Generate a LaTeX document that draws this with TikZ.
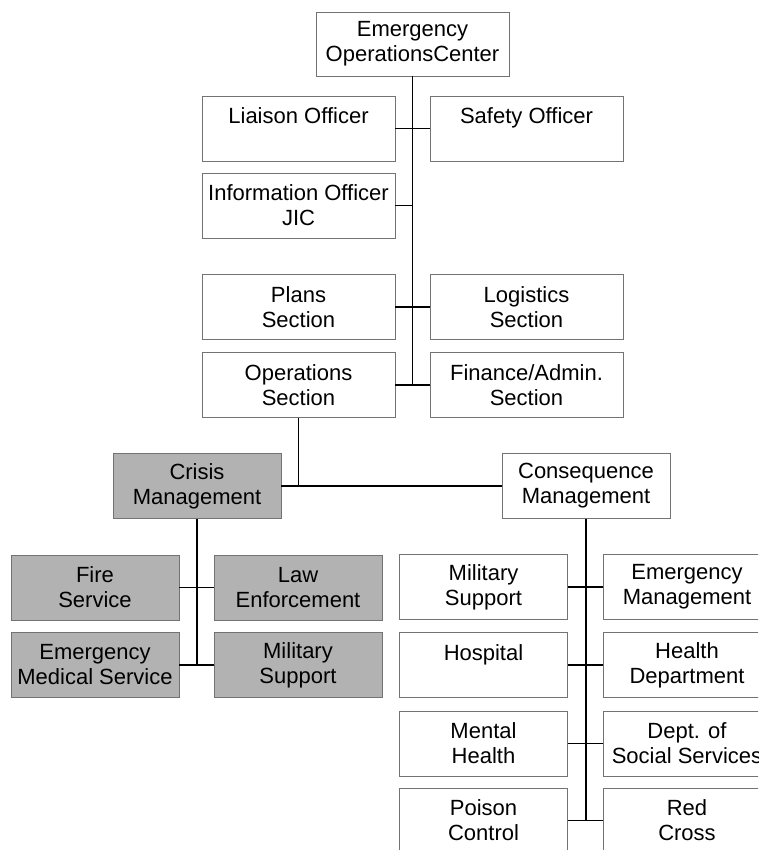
\documentclass[tikz,border=0pt]{standalone}
\usepackage{fontspec}
\setmainfont{Liberation Sans}

\begin{document}
\begin{tikzpicture}
        [
            x                       = 1pt,
            y                       = -1pt,
            boxed/.style            = {shape=rectangle, draw=black!55, fill=white, align=center,
                                       inner sep=1pt, minimum height=65pt},
            wide/.style             = {boxed, minimum width=193pt},
            narrow/.style           = {boxed, minimum width=168pt},
            crisis/.style           = {narrow, fill=black!30},
            link/.style             = {draw, line width=1.3pt},
            every node/.style       = {font=\fontsize{22}{25}\selectfont},
        ]
        \useasboundingbox (0,0) rectangle (758,850);
        \clip (0,0) rectangle (758,850);

        \node [wide, minimum height=64pt] (eoc)       at (412.5,44)    {Emergency\\OperationsCenter};
        \node [wide]                      (liaison)   at (298.5,128.5) {Liaison Officer\\~};
        \node [wide]                      (safety)    at (526.5,128.5) {Safety Officer\\~};
        \node [wide]                      (info)      at (298.5,205.5) {Information Officer\\JIC};
        \node [wide]                      (plans)     at (298.5,307)   {Plans\\Section};
        \node [wide]                      (logistics) at (526.5,307)   {Logistics\\Section};
        \node [wide]                      (ops)       at (298.5,385)   {Operations\\Section};
        \node [wide]                      (finance)   at (526.5,385)   {Finance/Admin.\\Section};

        \node [crisis] (crisismgmt) at (197,486)   {Crisis\\Management};
        \node [crisis] (fire)       at (95,587.5)  {Fire\\Service};
        \node [crisis] (law)        at (298,587.5) {Law\\Enforcement};
        \node [crisis] (ems)        at (95,665)    {Emergency\\Medical Service};
        \node [crisis] (milcrisis)  at (298,665)   {Military\\Support};

        \node [narrow] (conseq)    at (586,486)     {Consequence\\Management};
        \node [narrow] (milsup)    at (483.5,587)   {Military\\Support};
        \node [narrow] (emgmt)     at (687,587)     {Emergency\\Management};
        \node [narrow] (hospital)  at (483.5,665)   {Hospital\\~};
        \node [narrow] (healthdep) at (687,665)     {Health\\Department};
        \node [narrow] (mental)    at (483.5,743.5) {Mental\\Health};
        \node [narrow] (socserv)   at (687,743.5)   {Dept. of\\Social Services};
        \node [narrow] (poison)    at (483.5,820.5) {Poison\\Control};
        \node [narrow] (redcross)  at (687,820.5)   {Red\\Cross};

        \path [link] (eoc.south) -- (eoc.south |- ops)
                     (liaison.east) -- (safety.west)
                     (info.east) -- (info.east -| eoc.south)
                     (plans.east) -- (logistics.west)
                     (ops.east) -- (finance.west)
                     (ops.south) -- (ops.south |- crisismgmt)
                     (crisismgmt.east) -- (conseq.west)
                     (crisismgmt.south) -- (crisismgmt.south |- ems)
                     (fire.east) -- (law.west)
                     (ems.east) -- (milcrisis.west)
                     (conseq.south) -- (conseq.south |- poison)
                     (milsup.east) -- (emgmt.west)
                     (hospital.east) -- (healthdep.west)
                     (mental.east) -- (socserv.west)
                     (poison.east) -- (redcross.west);
    \end{tikzpicture}
\end{document}
